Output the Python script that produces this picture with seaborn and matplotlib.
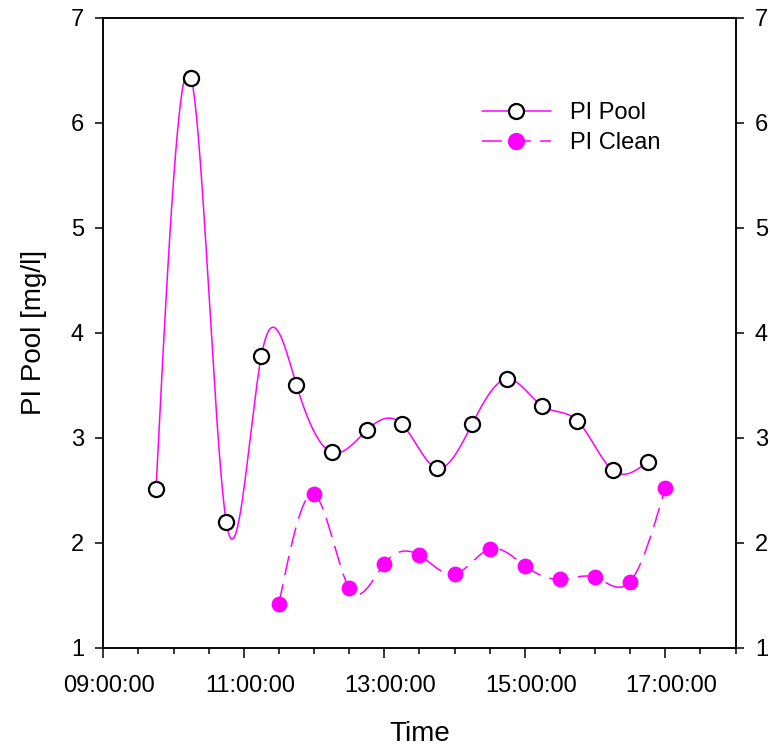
import numpy as np
import pandas as pd
import matplotlib
matplotlib.use("Agg")
import matplotlib.pyplot as plt
import matplotlib.transforms as mtransforms
from matplotlib.lines import Line2D
import seaborn as sns

# ---------------- data ----------------
pool_times = ["09:45", "10:15", "10:45", "11:15", "11:45", "12:15", "12:45", "13:15",
              "13:45", "14:15", "14:45", "15:15", "15:45", "16:15", "16:45"]
pool_vals = [2.51, 6.43, 2.20, 3.78, 3.50, 2.86, 3.07, 3.13,
             2.71, 3.13, 3.56, 3.30, 3.16, 2.69, 2.77]

clean_times = ["11:30", "12:00", "12:30", "13:00", "13:30", "14:00",
               "14:30", "15:00", "15:30", "16:00", "16:30", "17:00"]
clean_vals = [1.42, 2.46, 1.57, 1.80, 1.88, 1.70,
              1.94, 1.78, 1.65, 1.67, 1.63, 2.52]

x_tick_labels = ["09:00:00", "11:00:00", "13:00:00", "15:00:00", "17:00:00"]
y_ticks = [1, 2, 3, 4, 5, 6, 7]
series_names = ["PI Pool", "PI Clean"]


def to_hours(t):
    h, m = t.split(":")
    return int(h) + int(m) / 60.0


def natural_spline(x, y, n=600):
    x = np.asarray(x, float)
    y = np.asarray(y, float)
    k = len(x)
    h = np.diff(x)
    A = np.zeros((k, k))
    b = np.zeros(k)
    A[0, 0] = 1
    A[-1, -1] = 1
    for i in range(1, k - 1):
        A[i, i - 1] = h[i - 1]
        A[i, i] = 2 * (h[i - 1] + h[i])
        A[i, i + 1] = h[i]
        b[i] = 6 * ((y[i + 1] - y[i]) / h[i] - (y[i] - y[i - 1]) / h[i - 1])
    M = np.linalg.solve(A, b)
    xs = np.linspace(x[0], x[-1], n)
    idx = np.clip(np.searchsorted(x, xs) - 1, 0, k - 2)
    x0, x1 = x[idx], x[idx + 1]
    hh = x1 - x0
    a = (x1 - xs) / hh
    bb = (xs - x0) / hh
    ys = (a * y[idx] + bb * y[idx + 1]
          + ((a ** 3 - a) * M[idx] + (bb ** 3 - bb) * M[idx + 1]) * hh ** 2 / 6)
    return xs, ys


pool_df = pd.DataFrame({"t": [to_hours(t) for t in pool_times], "v": pool_vals})
clean_df = pd.DataFrame({"t": [to_hours(t) for t in clean_times], "v": clean_vals})

# ---------------- style ----------------
sns.set_theme(style="ticks")
plt.rcParams["font.family"] = ["Liberation Sans", "DejaVu Sans"]
plt.rcParams["axes.linewidth"] = 1.1
plt.rcParams["text.color"] = "black"

MAG = "#ff00ff"
LW = 1.1
DASH = (0, (13, 6))
TICKFS = 17

fig = plt.figure(figsize=(7.7, 7.5), dpi=100)
ax = fig.add_axes([0.1342, 0.1364, 0.8210, 0.8400])

# smooth curves
px, py = natural_spline(pool_df["t"], pool_df["v"])
cx, cy = natural_spline(clean_df["t"], clean_df["v"])
sns.lineplot(x=px, y=py, ax=ax, color=MAG, linewidth=LW, sort=False, zorder=2)
sns.lineplot(x=cx, y=cy, ax=ax, color=MAG, linewidth=LW, sort=False,
             linestyle=DASH, zorder=2)

# markers
sns.scatterplot(data=pool_df, x="t", y="v", ax=ax, s=118, marker="o",
                facecolor="white", edgecolor="black", linewidth=1.6, zorder=3)
sns.scatterplot(data=clean_df, x="t", y="v", ax=ax, s=130, marker="o",
                color=MAG, edgecolor=MAG, linewidth=0, zorder=3)

# axes
ax.set_xlim(9, 18)
ax.set_ylim(1, 7)
ax.set_xticks([9, 11, 13, 15, 17])
ax.set_xticklabels(x_tick_labels)
ax.set_xticks(np.arange(9, 18.01, 0.5), minor=True)
ax.set_yticks(y_ticks)
ax.set_yticklabels([str(v) for v in y_ticks])
ax.tick_params(axis="x", which="major", direction="out", length=7, width=1.1,
               labelsize=TICKFS, pad=13, colors="black")
ax.tick_params(axis="x", which="minor", direction="out", length=4, width=1.1,
               colors="black")
ax.tick_params(axis="y", which="major", direction="out", length=6, width=1.1,
               labelsize=TICKFS, pad=8, colors="black")
for s in ax.spines.values():
    s.set_color("black")
    s.set_linewidth(1.1)

# labels in the reference sit slightly right of their ticks
shift = mtransforms.ScaledTranslation(6 / 100, 0, fig.dpi_scale_trans)
for lab in ax.get_xticklabels():
    lab.set_transform(lab.get_transform() + shift)

ax2 = ax.twinx()
ax2.set_ylim(1, 7)
ax2.set_yticks(y_ticks)
ax2.set_yticklabels([str(v) for v in y_ticks])
ax2.tick_params(axis="y", which="major", direction="out", length=6, width=1.1,
                labelsize=TICKFS, pad=8, colors="black")
for s in ax2.spines.values():
    s.set_color("black")
    s.set_linewidth(1.1)

ax.set_xlabel("Time", fontsize=20, labelpad=17, color="black")
ax.set_ylabel("PI Pool [mg/l]", fontsize=20, labelpad=17, color="black")

# legend
handles = [
    Line2D([], [], color=MAG, lw=LW, marker="o", markersize=10.8,
           markerfacecolor="white", markeredgecolor="black", markeredgewidth=1.6),
    Line2D([], [], color=MAG, lw=LW, linestyle=DASH, marker="o", markersize=11.4,
           markerfacecolor=MAG, markeredgecolor=MAG),
]
ax.legend(handles, series_names, loc="upper left", bbox_to_anchor=(0.5986, 0.866),
          frameon=False, fontsize=17, numpoints=1, handlelength=2.92,
          handletextpad=0.82, labelspacing=0.34, borderpad=0, borderaxespad=0,
          labelcolor="black")

fig.savefig("out.png", dpi=100)
